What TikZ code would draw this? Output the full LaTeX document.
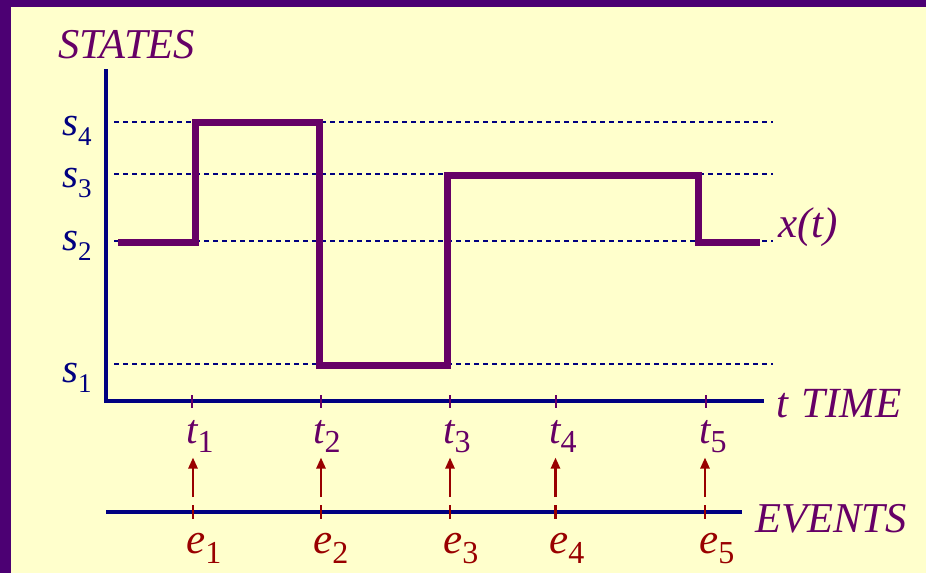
\documentclass[tikz,border=0pt]{standalone}
\usepackage{fontspec}
\setmainfont{Liberation Serif}[UprightFont={Liberation Serif}, ItalicFont={Liberation Serif Italic}]
\usetikzlibrary{arrows.meta}
\definecolor{bgy}{HTML}{FFFFCC}
\definecolor{frame}{RGB}{76,0,115}
\definecolor{pur}{HTML}{660066}
\definecolor{nav}{HTML}{000080}
\definecolor{dred}{HTML}{990000}
\newcommand{\fs}[1]{\fontsize{#1}{#1}\selectfont}
\newcommand{\sublbl}[5]{{\fs{#3}\itshape #1}\raisebox{-#5pt}{\fs{#4}\upshape #2}}
\tikzset{
  lbl/.style={inner sep=0pt, anchor=base west},
  axisline/.style={nav, line width=3.8pt},
  guide/.style={nav, line width=1.1pt, dash pattern=on 5pt off 4pt},
  signal/.style={pur, line width=7pt, line join=miter},
  tticK/.style={pur, line width=2pt},
  eticK/.style={dred, line width=2.3pt},
  evarrow/.style={dred, line width=2.5pt, -{Triangle[length=11pt,width=9pt]}},
}
\begin{document}
\begin{tikzpicture}[x=1pt,y=-1pt]
\useasboundingbox (0,0) rectangle (926,573);
\fill[bgy] (0,0) rectangle (926,573);
\fill[frame] (0,0) rectangle (926,7);
\fill[frame] (0,0) rectangle (11,573);
% guides
\coordinate (g4a) at (114,122); \coordinate (g4b) at (773,122);
\coordinate (g3a) at (114,174); \coordinate (g3b) at (773,174);
\coordinate (g2a) at (114,241); \coordinate (g2b) at (773,241);
\coordinate (g1a) at (114,364); \coordinate (g1b) at (773,364);
\draw[guide] (g4a) -- (g4b);
\draw[guide] (g3a) -- (g3b);
\draw[guide] (g2a) -- (g2b);
\draw[guide] (g1a) -- (g1b);
% axes
\coordinate (ytop) at (106,69);
\coordinate (orig) at (106,401);
\coordinate (xend) at (764,401);
\coordinate (evs) at (106,512);
\coordinate (eve) at (742,512);
\draw[axisline, line join=miter] (ytop) -- (orig) -- (xend);
\draw[axisline] (evs) -- (eve);
% signal
\draw[signal] (118,242) -- (195,242) -- (195,122.5) -- (319.5,122.5) -- (319.5,365) -- (447,365) -- (447,175) -- (698,175) -- (698,242) -- (760,242);
% ticks and arrows
\foreach \i/\tx/\ax in {1/192/193,2/320.5/321,3/450/450,4/556/555.5,5/706/705}{
  \coordinate (tt\i) at (\tx,395); \coordinate (tb\i) at (\tx,407.5);
  \draw[tticK] (tt\i) -- (tb\i);
  \coordinate (et\i) at (\ax,505); \coordinate (eb\i) at (\ax,518.5);
  \draw[eticK] (et\i) -- (eb\i);
  \coordinate (as\i) at (\ax,497); \coordinate (ae\i) at (\ax,457.5);
  \draw[evarrow] (as\i) -- (ae\i);
}
% labels
\node[lbl, pur] (states) at (58,58) {\fs{42.5}\itshape STATES};
\node[lbl, nav] (s4) at (62,135) {\sublbl{s}{4}{41}{27}{10}};
\node[lbl, nav] (s3) at (62,187) {\sublbl{s}{3}{41}{27}{10}};
\node[lbl, nav] (s2) at (62,250) {\sublbl{s}{2}{41}{27}{10}};
\node[lbl, nav] (s1) at (62,382) {\sublbl{s}{1}{41}{27}{10}};
\node[lbl, pur] (xt) at (778,237) {\fs{43}\itshape x(t)};
\node[lbl, pur] (time) at (776,417) {\fs{43}\itshape t\hspace{13pt}TIME};
\node[lbl, pur] (events) at (755,532) {\fs{42.5}\itshape EVENTS};
\foreach \i/\x in {1/186,2/313,3/443,4/549,5/699}{
  \node[lbl, pur] (t\i) at (\x,443) {\sublbl{t}{\i}{41}{32}{9}};
  \node[lbl, dred] (e\i) at (\x,553) {\sublbl{e}{\i}{43}{32}{10}};
}
\end{tikzpicture}
\end{document}
